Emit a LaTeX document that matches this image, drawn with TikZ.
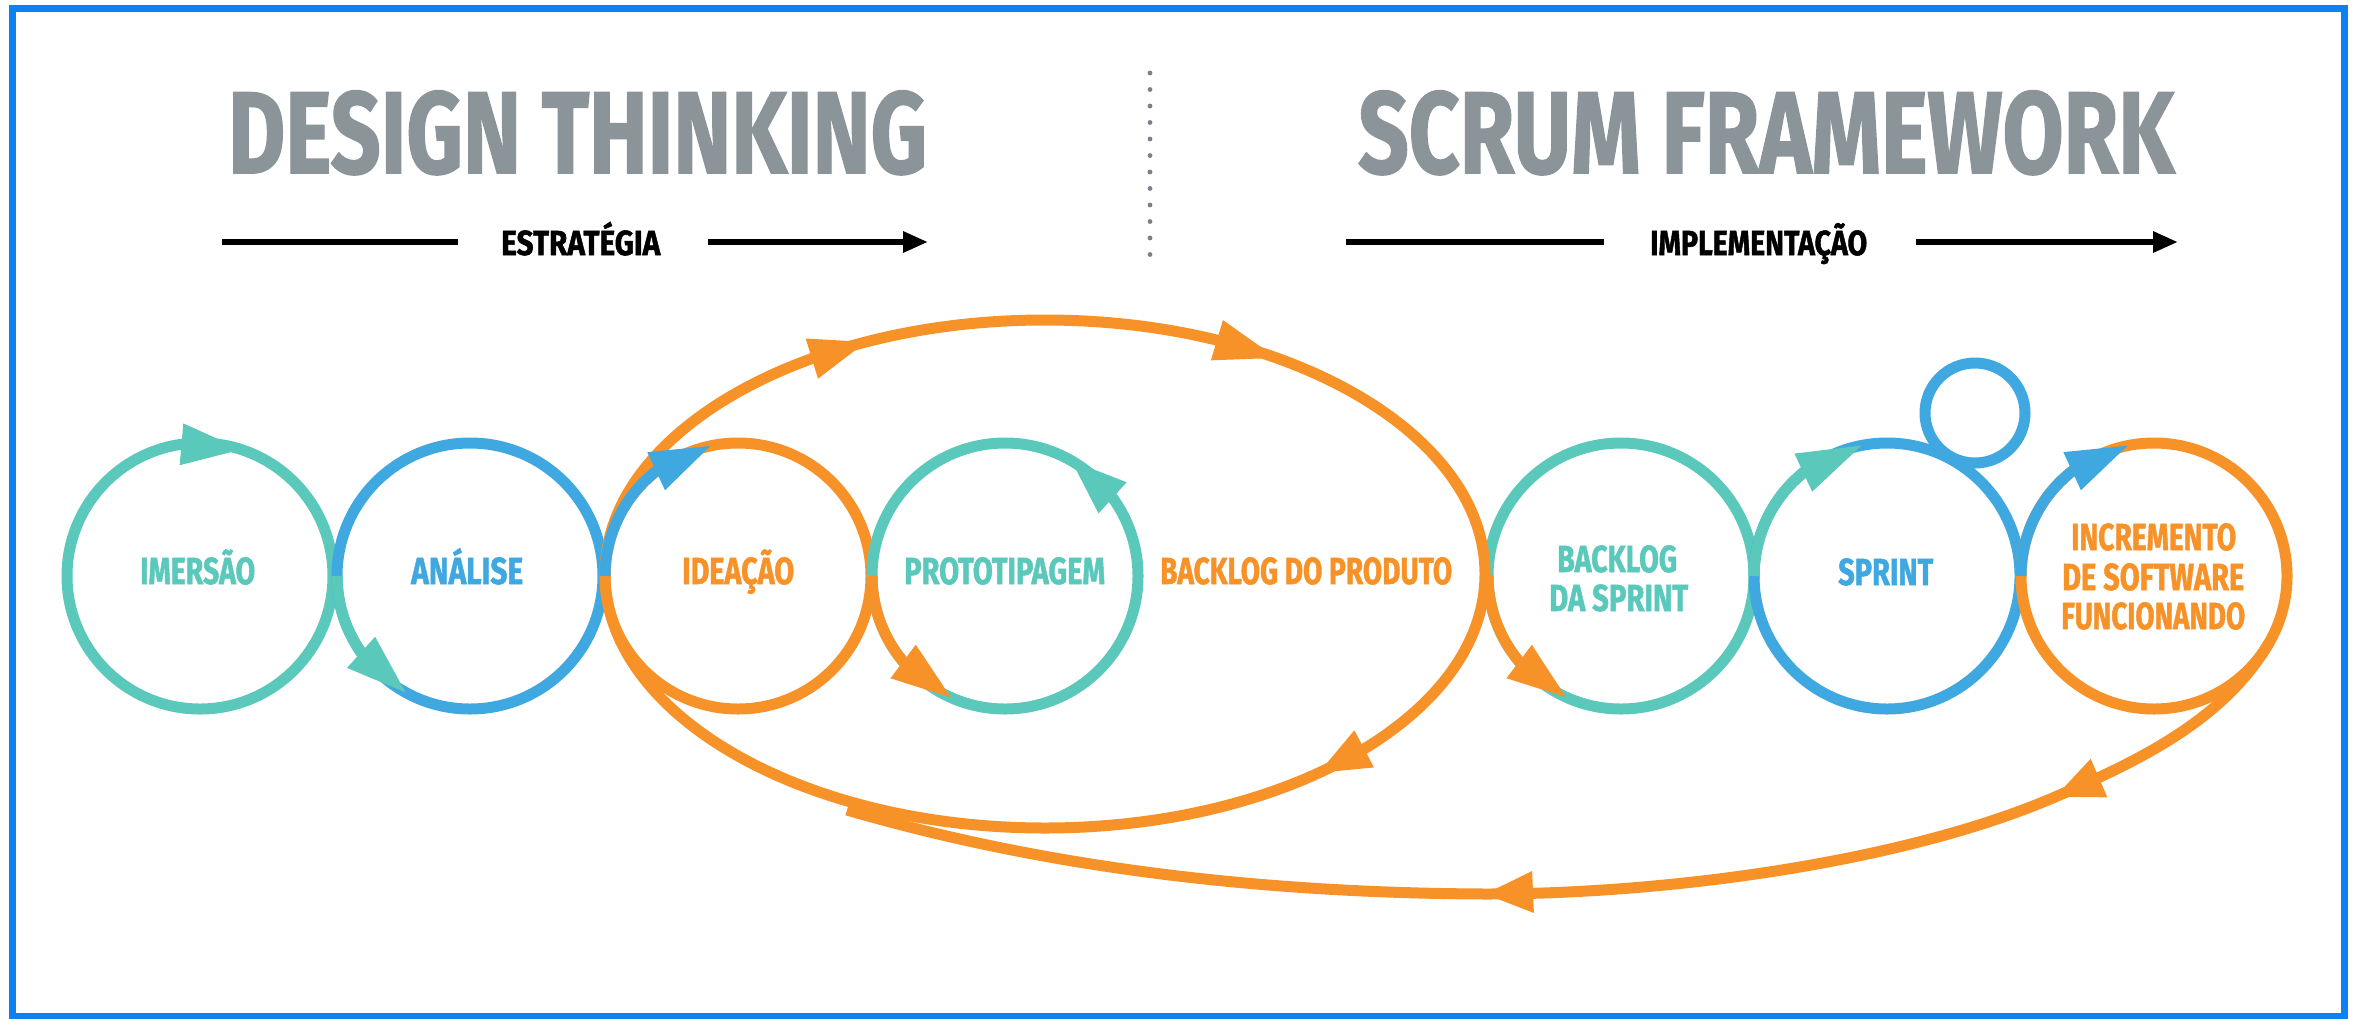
\documentclass[tikz,border=0pt]{standalone}
\usepackage{graphicx}
\usepackage{fontspec}
\setmainfont{Fira Sans}
\newfontfamily\heavyfont{Fira Sans}[BoldFeatures={FakeBold=1.5}]
\usetikzlibrary{calc,arrows.meta}
\definecolor{dteal}{RGB}{90,200,187}
\definecolor{dblue}{RGB}{64,168,224}
\definecolor{dorange}{RGB}{247,146,40}
\definecolor{dgray}{RGB}{138,148,153}
\definecolor{frameblue}{RGB}{15,128,240}
\definecolor{dotgray}{RGB}{120,130,138}
\newcommand{\fitw}[3]{\resizebox{#1pt}{\height}{\fontsize{#2}{#2}\selectfont\heavyfont\bfseries #3}}
% arrowhead: tip coordinate, base-mid coordinate, colour
\newcommand{\ahead}[3]{\fill[#3] (#1) -- ($(#2)!21pt!90:(#1)$) -- ($(#2)!21pt!-90:(#1)$) -- cycle;}
% arrowhead on a ring: centre node, tip angle, base angle, colour, name
\newcommand{\ringhead}[5]{%
  \coordinate (#5t) at ($(#1.center)+(#2:133)$);
  \coordinate (#5b) at ($(#1.center)+(#3:133)$);
  \ahead{#5t}{#5b}{#4}}
% arrowhead on the ellipse: tip param angle, base param angle, name
\newcommand{\ellhead}[3]{%
  \coordinate (#3t) at ($(E)+(#1:440 and 254)$);
  \coordinate (#3b) at ($(E)+(#2:440 and 254)$);
  \ahead{#3t}{#3b}{dorange}}
\begin{document}
\begin{tikzpicture}[x=1pt,y=-1pt,
  ring/.style={circle, draw=#1, line width=11pt, minimum size=266pt, inner sep=0pt},
  lbl/.style={anchor=base west, inner sep=0pt, text=#1},
  hline/.style={line width=6pt, black},
  harrow/.style={line width=6pt, black, -{Triangle[length=25pt,width=20pt]}},
  overlay arc/.style={draw=#1, line width=11pt}]
\useasboundingbox (0,0) rectangle (2357,1018);
\fill[white] (0,0) rectangle (2357,1018);
% frame
\draw[frameblue, line width=7pt] (12.5,8.5) rectangle (2344.5,1016);

% titles
\node[lbl=dgray] (dt) at (228,173) {\fitw{699}{116}{DESIGN THINKING}};
\node[lbl=dgray] (sf) at (1358,173) {\fitw{816}{116}{SCRUM FRAMEWORK}};
\node[lbl=black] (estr) at (501,255) {\fitw{159}{34.8}{ESTRATÉGIA}};
\node[lbl=black] (impl) at (1650,255) {\fitw{217}{34.8}{IMPLEMENTAÇÃO}};
\coordinate (el1) at (222,242); \coordinate (el2) at (458,242);
\coordinate (er1) at (708,242); \coordinate (er2) at (928,242);
\coordinate (il1) at (1346,242); \coordinate (il2) at (1604,242);
\coordinate (ir1) at (1916,242); \coordinate (ir2) at (2178,242);
\draw[hline] (el1) -- (el2);
\draw[harrow] (er1) -- (er2);
\draw[hline] (il1) -- (il2);
\draw[harrow] (ir1) -- (ir2);
% dotted separator
\foreach \i in {0,...,11} \fill[dotgray] (1150,73+16.5*\i) circle[radius=2.4];

% rings
\node[ring=dteal] (imersao) at (200,576) {};
\node[ring=dblue] (analise) at (470,576) {};
\node[ring=dorange] (ideacao) at (738,576) {};
\node[ring=dteal] (prototip) at (1005,576) {};
\node[ring=dteal] (bsprint) at (1621,576) {};
\node[ring=dblue] (sprint) at (1887,576) {};
\node[ring=dorange] (increm) at (2154,576) {};
\node[circle, draw=dblue, line width=11pt, minimum size=100pt, inner sep=0pt] (daily) at (1975,413) {};

% backlog ellipse
\coordinate (E) at (1045,574);
\draw[dorange, line width=11pt] (E) ellipse[x radius=440, y radius=254];

% coloured hand-over arcs
\draw[overlay arc=dteal] (analise.center) ++(180:133) arc[start angle=180, end angle=141, radius=133];
\draw[overlay arc=dblue] (ideacao.center) ++(180:133) arc[start angle=180, end angle=236, radius=133];
\draw[overlay arc=dorange] (prototip.center) ++(180:133) arc[start angle=180, end angle=136, radius=133];
\draw[overlay arc=dorange] (bsprint.center) ++(180:133) arc[start angle=180, end angle=136, radius=133];
\draw[overlay arc=dteal] (sprint.center) ++(180:133) arc[start angle=180, end angle=235, radius=133];
\draw[overlay arc=dblue] (increm.center) ++(180:133) arc[start angle=180, end angle=236, radius=133];

% return loop from increment to product backlog
\coordinate (loopstart) at ($(increm.center)+(30:133)$);
\coordinate (loopA) at (2055,797);
\coordinate (loopB) at (1485,894);
\coordinate (loopend) at (847,810);
\draw[dorange, line width=11pt]
  (loopstart) .. controls (2224,720.4) and (2137.6,761.4) .. (loopA)
  .. controls (1908,860.4) and (1675,894) .. (loopB)
  .. controls (1270,893) and (1053,870) .. (loopend);

% arrowheads on rings
\ringhead{imersao}{288}{262}{dteal}{h1}
\ringhead{analise}{119}{145}{dteal}{h2}
\ringhead{ideacao}{258}{232}{dblue}{h3}
\ringhead{prototip}{114}{140}{dorange}{h4}
\ringhead{prototip}{300}{324}{dteal}{h5}
\ringhead{bsprint}{114.5}{140}{dorange}{h6}
\ringhead{sprint}{259}{231}{dteal}{h7}
\ringhead{increm}{258.5}{232}{dblue}{h8}
% arrowheads on ellipse
\ellhead{246}{238}{e1}
\ellhead{301.7}{293}{e2}
\ellhead{51.5}{43.5}{e3}
% arrowheads on return loop
\coordinate (l1b) at (2099,778);
\ahead{loopA}{l1b}{dorange}
\coordinate (l2b) at (1533,892);
\ahead{loopB}{l2b}{dorange}

% labels
\node[lbl=dteal] (t1) at (140,584) {\fitw{115}{37.7}{IMERSÃO}};
\node[lbl=dblue] (t2) at (411,584) {\fitw{112}{37.7}{ANÁLISE}};
\node[lbl=dorange] (t3) at (682,584) {\fitw{112}{37.7}{IDEAÇÃO}};
\node[lbl=dteal] (t4) at (904,584) {\fitw{201}{37.7}{PROTOTIPAGEM}};
\node[lbl=dorange] (t5) at (1160,584) {\fitw{292}{37.7}{BACKLOG DO PRODUTO}};
\node[lbl=dteal] (t6a) at (1557,572) {\fitw{120}{37.7}{BACKLOG}};
\node[lbl=dteal] (t6b) at (1549,611) {\fitw{139}{37.7}{DA SPRINT}};
\node[lbl=dblue] (t7) at (1838,585) {\fitw{95}{37.7}{SPRINT}};
\node[lbl=dorange] (t8a) at (2071,550) {\fitw{165}{37.7}{INCREMENTO}};
\node[lbl=dorange] (t8b) at (2062,590) {\fitw{182}{37.7}{DE SOFTWARE}};
\node[lbl=dorange] (t8c) at (2061,629) {\fitw{184}{37.7}{FUNCIONANDO}};
\end{tikzpicture}
\end{document}
